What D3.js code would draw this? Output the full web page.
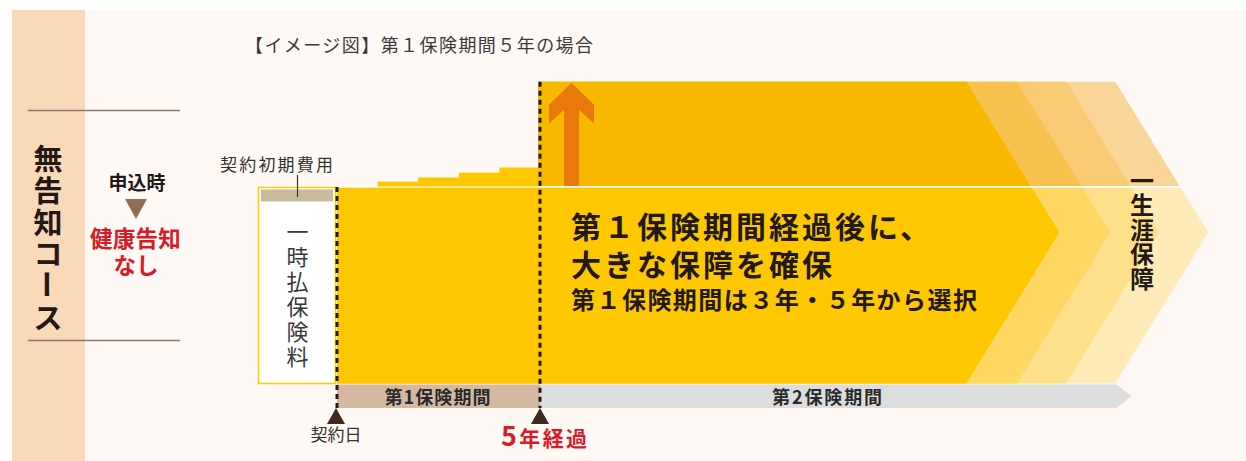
<!DOCTYPE html>
<html><head><meta charset="utf-8">
<script src="https://cdn.jsdelivr.net/npm/d3@7"></script>
<style>
html,body{margin:0;padding:0;background:#fff;}
svg{display:block;}
text{font-family:"Noto Sans CJK JP","Noto Sans",sans-serif;}
</style></head>
<body>
<svg id="c" width="1246" height="461"></svg>
<script>
// ---- data ----
const title = "【イメージ図】第１保険期間５年の場合";
const courseLabel = ["無","告","知","コ","ー","ス"];
const noticeLines = ["健康告知", "なし"];
const periodNames = ["第1保険期間", "第2保険期間"];
const periodStart = [0, 5];          // years
const periodEnd = [5, 19.2];         // years (2nd period continues lifelong)
const markerYears = [0, 5];
const markerLabels = ["契約日", "5年経過"];
const stepYears = [1, 2, 3, 4];      // growth during 1st period
const stepValues = [102.5, 104.6, 107.1, 109.7];
const baseValue = 100;               // 一時払保険料 level
const boostedValue = 154;            // level after 1st period
const chevronEnds = [15.5, 16.75, 17.96, 19.17]; // years
const upperColors = ["#F8B800", "#F8C24E", "#F9CB74", "#F9D597"];
const lowerColors = ["#FDC800", "#FED862", "#FEE08B", "#FEEBB8"];
const premiumChars = ["一","時","払","保","険","料"];
const lifelongChars = ["一","生","涯","保","障"];
const mainLines = ["第１保険期間経過後に、", "大きな保障を確保"];
const subLine = "第１保険期間は３年・５年から選択";

// ---- scales ----
const x = d3.scaleLinear().domain([0, 5]).range([337, 540]);
const y = d3.scaleLinear().domain([0, baseValue]).range([383.5, 187.5]);

const svg = d3.select("#c");
const red = "#D81C27", ink = "#231815";

// background
svg.append("rect").attr("x",12).attr("y",10).attr("width",1234).attr("height",451).attr("fill","#FEF9F5");
svg.append("rect").attr("x",12).attr("y",10).attr("width",73).attr("height",451).attr("fill","#F9D9B7");
[110.5, 340.5].forEach(yy => svg.append("line").attr("x1",28).attr("x2",180).attr("y1",yy).attr("y2",yy)
  .attr("stroke","#8C786C").attr("stroke-width",1.4));

// course label vertical
courseLabel.forEach((ch,i) => {
  const cy = 157 + i*31.8;
  const t = svg.append("text").attr("x",48).attr("y",cy).attr("text-anchor","middle")
    .attr("dominant-baseline","central").attr("font-size",29).attr("font-weight",700).attr("fill",ink).text(ch);
  if (ch === "ー") t.attr("transform",`rotate(90,48,${cy})`);
});
svg.append("text").attr("x",137).attr("y",190).attr("text-anchor","middle").attr("font-size",19)
  .attr("font-weight",700).attr("fill",ink).text("申込時");
svg.append("path").attr("d","M125,199 L147,199 L136,219 Z").attr("fill","#8E6E55");
noticeLines.forEach((s,i)=>{
  svg.append("text").attr("x",i===0?135.5:136).attr("y",247+i*26.5).attr("text-anchor","middle").attr("font-size",22.5)
    .attr("font-weight",700).attr("fill",red).attr("letter-spacing",i===0?0.3:0).text(s);
});

// title
svg.append("text").attr("x",245).attr("y",52).attr("font-size",18).attr("fill","#3a3a3a")
  .attr("textLength",348).attr("lengthAdjust","spacing").text(title);

// chevrons
const topY = y(boostedValue), midY = 186.5, botY = y(0);
const tipY = (topY + botY)/2;
const k = 93/(tipY - topY);
for (let i = chevronEnds.length-1; i >= 0; i--) {
  const T = x(chevronEnds[i]);
  const tip = T + (tipY-topY)*k;
  const atMid = T + (midY-topY)*k;
  svg.append("path").attr("d",
    `M${x(5)-2},${topY} L${T},${topY} L${atMid},${midY} L${x(5)-2},${midY} Z`).attr("fill",upperColors[i]);
  svg.append("path").attr("d",
    `M${x(0)},${midY+1} L${atMid+k},${midY+1} L${tip},${tipY} L${T},${botY} L${x(0)},${botY} Z`).attr("fill",lowerColors[i]);
}
// white separator
svg.append("line").attr("x1",x(0)).attr("x2",x(chevronEnds[3])+(midY-topY)*k+2).attr("y1",midY+0.3).attr("y2",midY+0.3)
  .attr("stroke","#fff").attr("stroke-width",1.4);

// growth steps in 1st period
svg.selectAll(".step").data(stepYears).join("rect")
  .attr("x",d=>x(d)).attr("width",d=>x(d+1)-x(d)+0.5)
  .attr("y",(d,i)=>y(stepValues[i])-1).attr("height",(d,i)=>y(baseValue)-y(stepValues[i]))
  .attr("fill","#FDC800");

// premium box
svg.append("rect").attr("x",258.5).attr("y",187.5).attr("width",77).attr("height",196)
  .attr("fill","#fff").attr("stroke","#FCD000").attr("stroke-width",1.5);
svg.append("rect").attr("x",261).attr("y",189.5).attr("width",72).attr("height",12).attr("fill","#C8BB9D");
svg.append("line").attr("x1",297.5).attr("x2",297.5).attr("y1",175).attr("y2",197).attr("stroke","#333").attr("stroke-width",1.2);
svg.append("text").attr("x",220).attr("y",171).attr("font-size",17).attr("fill","#333")
  .attr("textLength",113).text("契約初期費用");
premiumChars.forEach((ch,i)=>{
  svg.append("text").attr("x",297.5).attr("y",230+i*25).attr("text-anchor","middle").attr("dominant-baseline","central")
    .attr("font-size",22).attr("fill","#3a3a3a").text(ch);
});

// orange arrow
const ax = 571.5;
svg.append("path").attr("d",
  `M${ax},${topY+1} L${ax+22.5},${topY+23} L${ax+22.5},${topY+42} L${ax+7.5},${topY+28} L${ax+7.5},${midY-0.5}
   L${ax-7.5},${midY-0.5} L${ax-7.5},${topY+28} L${ax-22.5},${topY+42} L${ax-22.5},${topY+23} Z`).attr("fill","#E8790A");

// main texts
mainLines.forEach((s,i)=>{
  svg.append("text").attr("x",571).attr("y",237.5+i*38).attr("font-size",30).attr("font-weight",700).attr("fill",ink)
    .attr("letter-spacing",3).text(s);
});
svg.append("text").attr("x",571).attr("y",309).attr("font-size",24).attr("font-weight",700).attr("fill",ink)
  .attr("textLength",406).attr("lengthAdjust","spacing").text(subLine);

// lifelong label
lifelongChars.forEach((ch,i)=>{
  svg.append("text").attr("x",1142).attr("y",179+i*24.5).attr("text-anchor","middle").attr("dominant-baseline","central")
    .attr("font-size",24).attr("font-weight",700).attr("fill",ink).text(ch);
});

// period bars
const barY = 384.5, barH = 23.5;
svg.append("rect").attr("x",x(periodStart[0])).attr("y",barY).attr("width",x(periodEnd[0])-x(periodStart[0])).attr("height",barH).attr("fill","#D4B9A0");
const p2s = x(periodStart[1]), p2e = x(periodEnd[1]);
svg.append("path").attr("d",`M${p2s},${barY} L${p2e},${barY} L${p2e+15},${barY+barH/2} L${p2e},${barY+barH} L${p2s},${barY+barH} Z`).attr("fill","#DCDDDD");
svg.append("text").attr("x",(x(periodStart[0])+x(periodEnd[0]))/2-1).attr("y",403.5).attr("text-anchor","middle")
  .attr("font-size",18).attr("font-weight",700).attr("fill","#2a2a2a").attr("textLength",106).text(periodNames[0]);
svg.append("text").attr("x",827).attr("y",403.5).attr("text-anchor","middle")
  .attr("font-size",18).attr("font-weight",700).attr("fill","#2a2a2a").attr("textLength",110).text(periodNames[1]);

// dotted lines
svg.append("line").attr("x1",x(0)).attr("x2",x(0)).attr("y1",187).attr("y2",408)
  .attr("stroke","#231815").attr("stroke-width",3).attr("stroke-dasharray","5,4");
svg.append("line").attr("x1",x(5)).attr("x2",x(5)).attr("y1",topY).attr("y2",408)
  .attr("stroke","#231815").attr("stroke-width",3).attr("stroke-dasharray","5,4");

// markers
markerYears.forEach((yr,i)=>{
  const mx = x(yr) - (i===0?1:0);
  svg.append("path").attr("d",`M${mx},408 L${mx+9},424 L${mx-9},424 Z`).attr("fill","#3E2A1E");
});
svg.append("text").attr("x",x(0)-1).attr("y",441).attr("text-anchor","middle").attr("font-size",17)
  .attr("fill","#333").text(markerLabels[0]);
const m2 = svg.append("text").attr("x",501).attr("y",446).attr("font-weight",700).attr("fill",red)
  .attr("textLength",86);
m2.append("tspan").attr("font-size",27).text(markerLabels[1].slice(0,1));
m2.append("tspan").attr("font-size",21).text(markerLabels[1].slice(1));
</script>
</body></html>
